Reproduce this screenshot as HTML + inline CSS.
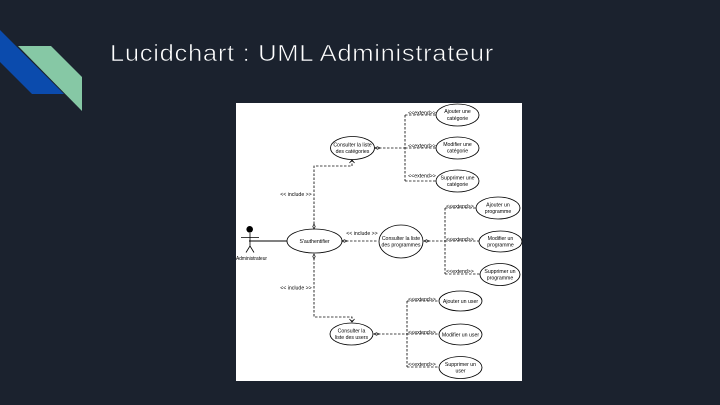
<!DOCTYPE html>
<html>
<head>
<meta charset="utf-8">
<style>
html,body{margin:0;padding:0;background:#1b222e;width:720px;height:405px;overflow:hidden}
svg{display:block}
</style>
</head>
<body>
<svg width="720" height="405" viewBox="0 0 720 405" xmlns="http://www.w3.org/2000/svg">
<defs><filter id="b" x="-5%" y="-5%" width="110%" height="110%"><feGaussianBlur stdDeviation="0.3"/></filter></defs>
<rect width="720" height="405" fill="#1b222e"/>
<polygon points="0,30 64,94 32,94 0,62" fill="#0b4bad"/>
<polygon points="18,46 51,46 82,77 82,111" fill="#86c8a5"/>
<text x="110" y="61" font-family="'Liberation Sans',sans-serif" font-size="23" fill="#ffffff" letter-spacing="0.6" textLength="384" lengthAdjust="spacingAndGlyphs" stroke="#1b222e" stroke-width="0.6">Lucidchart : UML Administrateur</text>
<rect x="236" y="103" width="286" height="278" fill="#fff"/>
<g filter="url(#b)">
<g fill="none" stroke="#111" stroke-width="0.85" stroke-dasharray="2.5 1.5">
<path d="M314 228V166H352V160"/>
<path d="M314 254V317H352V322"/>
<path d="M342 241H378"/>
<path d="M375 148H405M405 115V181M405 115H436M405 148H436M405 181H436"/>
<path d="M424 241H445M445 208V274M445 208H476M445 241H479M445 274H480"/>
<path d="M374 334H407M407 301V367M407 301H439M407 334H439M407 367H439"/>
</g>
<path d="M249 241H287" fill="none" stroke="#000" stroke-width="0.9"/>
<g fill="#fff" stroke="#000" stroke-width="0.85">
<ellipse cx="457.500" cy="115" rx="21.500" ry="11"/>
<ellipse cx="457.500" cy="148" rx="21.500" ry="11"/>
<ellipse cx="457.500" cy="181" rx="21.500" ry="11"/>
<ellipse cx="352.500" cy="148" rx="22" ry="11.500"/>
<ellipse cx="498" cy="208" rx="22" ry="11"/>
<ellipse cx="500.500" cy="241.500" rx="21.500" ry="10.500"/>
<ellipse cx="500" cy="274.500" rx="20" ry="11"/>
<ellipse cx="314.500" cy="241" rx="27.500" ry="12"/>
<ellipse cx="401" cy="241.500" rx="22" ry="16.500"/>
<ellipse cx="351.500" cy="334" rx="21.500" ry="11"/>
<ellipse cx="460.500" cy="301" rx="21.500" ry="10"/>
<ellipse cx="460.500" cy="334.500" rx="21.500" ry="10.500"/>
<ellipse cx="460.500" cy="367.500" rx="21.500" ry="11"/>
</g>
<g fill="#fff" stroke="#000" stroke-width="0.7">
<polygon points="375,148 377.500,146.800 380,148 377.500,149.200"/>
<polygon points="424,241 426.500,239.800 429,241 426.500,242.200"/>
<polygon points="374,334 376.500,332.800 379,334 376.500,335.200"/>
<polygon points="314,229 312.800,226.500 314,224 315.200,226.500"/>
<polygon points="314,254 312.800,256.500 314,259 315.200,256.500"/>
<polygon points="342,241 344.500,239.800 347,241 344.500,242.200"/>
</g>
<g fill="none" stroke="#000" stroke-width="0.8">
<path d="M349.500 163L352 160L354.500 163M349.500 319L352 322L354.500 319"/>
<path d="M241 237.500H259M250 233V246L246 252.500M250 246L254 252.500"/>
</g>
<circle cx="249.700" cy="229.300" r="3.300" fill="#000"/>
<g font-family="'Liberation Sans',sans-serif" font-size="5.200" fill="#000" text-anchor="middle">
<text x="422" y="114.500">&lt;&lt;extend&gt;&gt;</text>
<text x="422" y="147.500">&lt;&lt;extend&gt;&gt;</text>
<text x="422" y="177.500">&lt;&lt;extend&gt;&gt;</text>
<text x="460" y="208">&lt;&lt;extend&gt;&gt;</text>
<text x="460" y="241">&lt;&lt;extend&gt;&gt;</text>
<text x="460" y="273">&lt;&lt;extend&gt;&gt;</text>
<text x="422" y="301">&lt;&lt;extend&gt;&gt;</text>
<text x="422" y="334">&lt;&lt;extend&gt;&gt;</text>
<text x="422" y="366">&lt;&lt;extend&gt;&gt;</text>
<text x="296" y="196">&lt;&lt; include &gt;&gt;</text>
<text x="296" y="289.500">&lt;&lt; include &gt;&gt;</text>
<text x="362" y="235">&lt;&lt; include &gt;&gt;</text>
<text x="457.500" y="113">Ajouter une</text>
<text x="457.500" y="120">catégorie</text>
<text x="457.500" y="146">Modifier une</text>
<text x="457.500" y="152.500">catégorie</text>
<text x="457.500" y="179.500">Supprimer une</text>
<text x="457.500" y="186">catégorie</text>
<text x="352.500" y="146.500">Consulter la liste</text>
<text x="352.500" y="153">des catégories</text>
<text x="498" y="206.500">Ajouter un</text>
<text x="498" y="213">programme</text>
<text x="500.500" y="240">Modifier un</text>
<text x="500.500" y="246.500">programme</text>
<text x="500" y="273">Supprimer un</text>
<text x="500" y="279.500">programme</text>
<text x="314.500" y="243">S'authentifier</text>
<text x="401" y="240">Consulter la liste</text>
<text x="401" y="246.500">des programmes</text>
<text x="351.500" y="332.500">Consulter la</text>
<text x="351.500" y="339">liste des users</text>
<text x="460.500" y="303">Ajouter un user</text>
<text x="460.500" y="336.500">Modifier un user</text>
<text x="460.500" y="366">Supprimer un</text>
<text x="460.500" y="372.500">user</text>
<text x="251.500" y="260" textLength="31" lengthAdjust="spacingAndGlyphs">Administrateur</text>
</g>
</g>
</svg>
</body>
</html>
